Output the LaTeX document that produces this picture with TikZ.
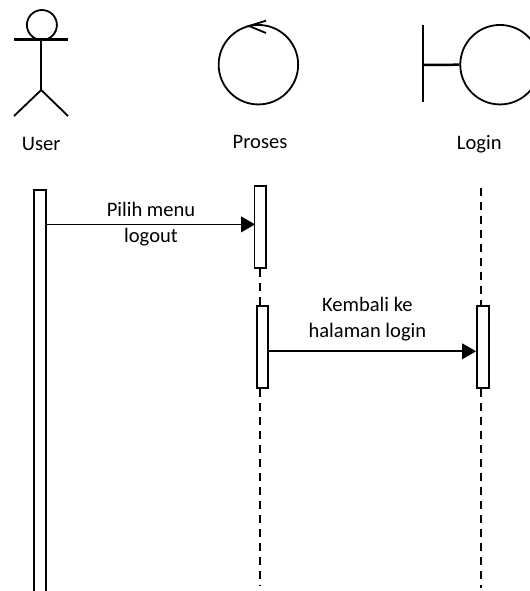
\documentclass[tikz,border=0pt]{standalone}
\usepackage{fontspec}
\setmainfont{Carlito}
\usetikzlibrary{arrows.meta,positioning,calc}

\begin{document}
\begin{tikzpicture}[
    x=0.02cm, y=-0.02cm,
    node distance=0.3cm,
    figure/.style={line width=0.05cm},
    thinfigure/.style={circle, draw, line width=0.036cm, inner sep=0pt},
    activation/.style={rectangle, draw, fill=white, line width=0.036cm, minimum width=0.235cm, inner sep=0pt},
    lifeline/.style={dashed, line width=0.04cm, dash pattern=on 0.16cm off 0.12cm},
    message/.style={-{Triangle[length=0.28cm,width=0.31cm]}, line width=0.036cm},
    caption/.style={font=\fontsize{11.7pt}{14.7pt}\selectfont, align=center, inner sep=0pt}
]
    \useasboundingbox (0,0) rectangle (530,591);

    % User
    \node[thinfigure, minimum size=0.6cm] (head) at (41.9,25) {};
    \coordinate (armleft) at (14,39.5);
    \coordinate (armright) at (68,39.5);
    \coordinate (neck) at (41.2,39.5);
    \coordinate (hip) at (41.2,90);
    \coordinate (footleft) at (14,116);
    \coordinate (footright) at (68,116);
    \draw[figure] (armleft) -- (armright);
    \draw[figure] (neck) -- (hip);
    \draw[thinfigure, rectangle] (footleft) -- (hip) -- (footright);

    % Proses
    \node[thinfigure, minimum size=1.59cm] (proses) at (258.4,64.7) {};
    \coordinate (tip) at (249,26);
    \coordinate (barbup) at (266,20.7);
    \coordinate (barbdown) at (266,33);
    \draw[thinfigure, rectangle] (barbup) -- (tip) -- (barbdown);

    % Login
    \node[thinfigure, minimum size=1.59cm] (login) at (500,64.7) {};
    \coordinate (bartop) at (423,25);
    \coordinate (barbottom) at (423,101.7);
    \coordinate (barmid) at (423,65);
    \draw[figure] (bartop) -- (barbottom);
    \draw[figure] (barmid) -- (login.west);

    % Labels
    \node[caption] (userlabel) at (41.3,144) {User};
    \node[caption] (proseslabel) at (260,142) {Proses};
    \node[caption] (loginlabel) at (479.3,144) {Login};

    % Activations
    \node[activation, minimum height=8.3cm] (userbar) at (40.2,397.5) {};
    \node[activation, minimum height=1.64cm] (prosesA) at (260.4,227) {};
    \node[activation, minimum height=1.64cm] (prosesB) at (262.5,347) {};
    \node[activation, minimum height=1.64cm] (loginbar) at (482.9,347) {};

    % Lifelines
    \coordinate (prosesend) at (260.4,586);
    \coordinate (loginstart) at (481,188);
    \coordinate (loginend) at (481,588);
    \draw[lifeline] (prosesA.south) -- (prosesA.south |- prosesB.north);
    \draw[lifeline] (prosesA.south |- prosesB.south) -- (prosesend);
    \draw[lifeline] (loginstart) -- (loginstart |- loginbar.north);
    \draw[lifeline] (loginstart |- loginbar.south) -- (loginend);

    % Messages
    \coordinate (msgA) at (0,224.4);
    \coordinate (msgB) at (0,351.3);
    \draw[message, shorten >=-0.03cm] (userbar.east |- msgA) -- (prosesA.west |- msgA);
    \draw[message] (prosesB.east |- msgB) -- (loginbar.west |- msgB);
    \node[caption] (pilih) at (151,224.5) {Pilih menu\\logout};
    \node[caption] (kembali) at (367.4,319.5) {Kembali ke\\halaman login};
\end{tikzpicture}
\end{document}
